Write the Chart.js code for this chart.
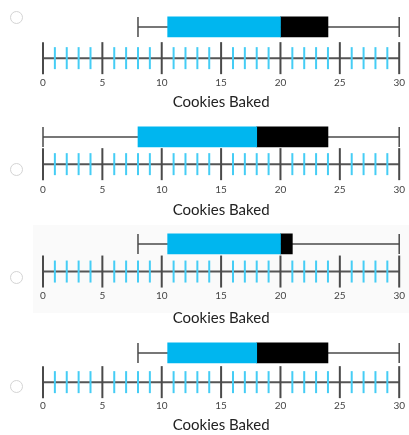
<!DOCTYPE html>
<html>
<head>
<meta charset="utf-8">
<script src="https://cdn.jsdelivr.net/npm/chart.js@4.4.1/dist/chart.umd.min.js"></script>
<style>
  body { margin: 0; background: #fff; width: 409px; height: 435px; overflow: hidden; position: relative; }
  .panel { position: absolute; left: 0; width: 409px; }
  .radio { position: absolute; left: 10px; width: 11px; height: 11px; border: 1.5px solid #d4d4d4; border-radius: 50%; background: #fff; }
  .shade { position: absolute; left: 33px; top: 225px; width: 376px; height: 88px; background: #fafafa; }
</style>
</head>
<body>
<div class="shade"></div>
<div class="radio" style="top:11px"></div>
<div class="radio" style="top:163px"></div>
<div class="radio" style="top:271px"></div>
<div class="radio" style="top:380px"></div>

<script>
// 데이터 (네 개의 상자그림)
let mins = [8, 0, 8, 8];
let q1s = [10.5, 8, 10.5, 10.5];
let medians = [20, 18, 20, 18];
let q3s = [24, 24, 21, 24];
let maxs = [30, 30, 30, 30];

// 수직선 눈금
let tickValues = [];
for (let v = 0; v <= 30; v++) tickValues.push(v);
let axisTitle = "Cookies Baked";

// 패널 위치 (캔버스 top, 높이, 상자 y, 수직선 y, 제목 여백) - y는 픽셀 단위
let panels = [
  { top: 0, height: 111, boxY: 27, lineY: 58.3, titlePad: 0 },
  { top: 110, height: 109, boxY: 27, lineY: 54.3, titlePad: 1 },
  { top: 218, height: 109, boxY: 26, lineY: 53.7, titlePad: 3 },
  { top: 327, height: 107, boxY: 26, lineY: 55.3, titlePad: 0 },
];

let blue = "#00b6ef";
let gray = "#4a4a4a";
let tickBlue = "#45cdf5";

function drawPanel(i) {
  let p = panels[i];
  let div = document.createElement("div");
  div.className = "panel";
  div.style.top = p.top + "px";
  div.style.height = p.height + "px";
  let canvas = document.createElement("canvas");
  div.appendChild(canvas);
  document.body.appendChild(div);

  // x축 높이 = 37.8 + 제목 여백 (측정값)
  let areaH = p.height - 37.8 - p.titlePad;

  new Chart(canvas.getContext("2d"), {
    type: "bar",
    data: {
      datasets: [
        {
          // 파란 상자 (Q1 ~ 중앙값)
          type: "bar",
          indexAxis: "y",
          grouped: false,
          data: [{ x: [q1s[i], medians[i]], y: p.boxY }],
          backgroundColor: blue,
          barThickness: 20,
          order: 1,
        },
        {
          // 검은 상자 (중앙값 ~ Q3)
          type: "bar",
          indexAxis: "y",
          grouped: false,
          data: [{ x: [medians[i], q3s[i]], y: p.boxY }],
          backgroundColor: "#000",
          barThickness: 20,
          order: 1,
        },
        {
          // 수염
          type: "line",
          data: [{ x: mins[i], y: p.boxY }, { x: maxs[i], y: p.boxY }],
          borderColor: gray,
          borderWidth: 1.5,
          pointStyle: "line",
          pointRotation: 90,
          pointRadius: 10,
          pointBorderWidth: 1.5,
          pointBorderColor: gray,
          clip: false,
          order: 2,
        },
        {
          // 수직선
          type: "line",
          data: [{ x: 0, y: p.lineY }, { x: 30, y: p.lineY }],
          borderColor: "#555",
          borderWidth: 2,
          pointRadius: 0,
          clip: false,
          order: 4,
        },
        {
          // 눈금
          type: "scatter",
          data: tickValues.map((v) => ({ x: v, y: p.lineY })),
          pointStyle: "line",
          pointRotation: 90,
          pointRadius: (ctx) => (ctx.raw && ctx.raw.x % 5 === 0 ? 16 : 11),
          pointBorderWidth: 2,
          pointBorderColor: (ctx) => (ctx.raw && ctx.raw.x % 5 === 0 ? gray : tickBlue),
          clip: false,
          order: 3,
        },
      ],
    },
    options: {
      responsive: true,
      maintainAspectRatio: false,
      animation: false,
      events: [],
      layout: { autoPadding: false, padding: { left: 43, right: 9, top: 0, bottom: 0 } },
      plugins: { legend: { display: false }, tooltip: { enabled: false } },
      scales: {
        x: {
          type: "linear",
          offset: false,
          min: 0,
          max: 30,
          grid: { display: false, drawTicks: false, offset: false },
          border: { display: false },
          ticks: {
            stepSize: 5,
            padding: 4,
            color: "#444",
            font: { family: "Lato", size: 10 },
          },
          title: {
            display: true,
            text: axisTitle,
            color: "#222",
            padding: { top: p.titlePad, bottom: 0 },
            font: { family: "Lato", size: 15 },
          },
        },
        y: {
          type: "linear",
          display: false,
          offset: false,
          reverse: true,
          min: 0,
          max: areaH,
        },
      },
    },
  });
}

for (let i = 0; i < panels.length; i++) {
  drawPanel(i);
}
</script>
</body>
</html>
